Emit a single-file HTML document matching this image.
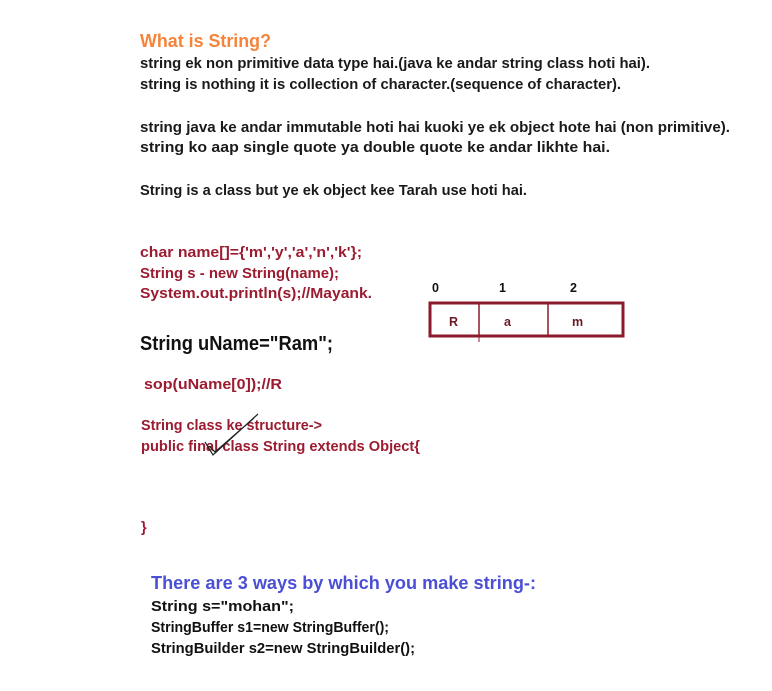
<!DOCTYPE html>
<html><head><meta charset="utf-8"><style>
html,body{margin:0;padding:0;background:#fff;}
svg{display:block;}
text{font-family:"Liberation Sans",sans-serif;font-weight:bold;}
</style></head><body>
<svg width="772" height="691" viewBox="0 0 772 691" xmlns="http://www.w3.org/2000/svg">
<g>
<text x="140" y="47" font-size="18" fill="#f5843a" textLength="131" lengthAdjust="spacingAndGlyphs">What is String?</text>
<g font-size="14.5" fill="#1a1a1a">
<text x="140" y="68" textLength="510" lengthAdjust="spacingAndGlyphs">string ek non primitive data type hai.(java ke andar string class hoti hai).</text>
<text x="140" y="89" textLength="481" lengthAdjust="spacingAndGlyphs">string is nothing it is collection of character.(sequence of character).</text>
<text x="140" y="132" textLength="590" lengthAdjust="spacingAndGlyphs">string java ke andar immutable hoti hai kuoki ye ek object hote hai (non primitive).</text>
<text x="140" y="152" textLength="470" lengthAdjust="spacingAndGlyphs">string ko aap single quote ya double quote ke andar likhte hai.</text>
<text x="140" y="195" textLength="387" lengthAdjust="spacingAndGlyphs">String is a class but ye ek object kee Tarah use hoti hai.</text>
</g>
<g font-size="14.5" fill="#9b1b30">
<text x="140" y="257" textLength="222" lengthAdjust="spacingAndGlyphs">char name[]={'m','y','a','n','k'};</text>
<text x="140" y="278" textLength="199" lengthAdjust="spacingAndGlyphs">String s - new String(name);</text>
<text x="140" y="298" textLength="232" lengthAdjust="spacingAndGlyphs">System.out.println(s);//Mayank.</text>
<text x="144" y="389" textLength="138" lengthAdjust="spacingAndGlyphs">sop(uName[0]);//R</text>
<text x="141" y="430" textLength="181" lengthAdjust="spacingAndGlyphs">String class ke structure-&gt;</text>
<text x="141" y="451" textLength="279" lengthAdjust="spacingAndGlyphs">public final class String extends Object{</text>
<text x="141" y="532">}</text>
</g>
<text x="140" y="350" font-size="20" fill="#111" textLength="193" lengthAdjust="spacingAndGlyphs">String uName="Ram";</text>
<text x="151" y="589" font-size="18.5" fill="#4b4fd6" textLength="385" lengthAdjust="spacingAndGlyphs">There are 3 ways by which you make string-:</text>
<g font-size="14.5" fill="#111">
<text x="151" y="611" textLength="143" lengthAdjust="spacingAndGlyphs">String s="mohan";</text>
<text x="151" y="632" textLength="238" lengthAdjust="spacingAndGlyphs">StringBuffer s1=new StringBuffer();</text>
<text x="151" y="653" textLength="264" lengthAdjust="spacingAndGlyphs">StringBuilder s2=new StringBuilder();</text>
</g>
<g font-size="12.5" fill="#111">
<text x="432" y="292">0</text>
<text x="499" y="292">1</text>
<text x="570" y="292">2</text>
</g>
<rect x="430" y="303" width="193" height="33" fill="none" stroke="#8b1a2b" stroke-width="3"/>
<line x1="479" y1="303" x2="479" y2="336" stroke="#8b1a2b" stroke-width="1.5"/>
<line x1="479" y1="326" x2="479" y2="342" stroke="#8b1a2b" stroke-width="1"/>
<line x1="548" y1="303" x2="548" y2="336" stroke="#8b1a2b" stroke-width="1.5"/>
<g font-size="12.5" fill="#6b1a25">
<text x="449" y="326">R</text>
<text x="504" y="326">a</text>
<text x="572" y="326">m</text>
</g>
<path d="M205 442 L213 455 L258 414 M209 446 L215 452 L254 418" fill="none" stroke="#222" stroke-width="1.2"/>
</g>
</svg>
</body></html>
